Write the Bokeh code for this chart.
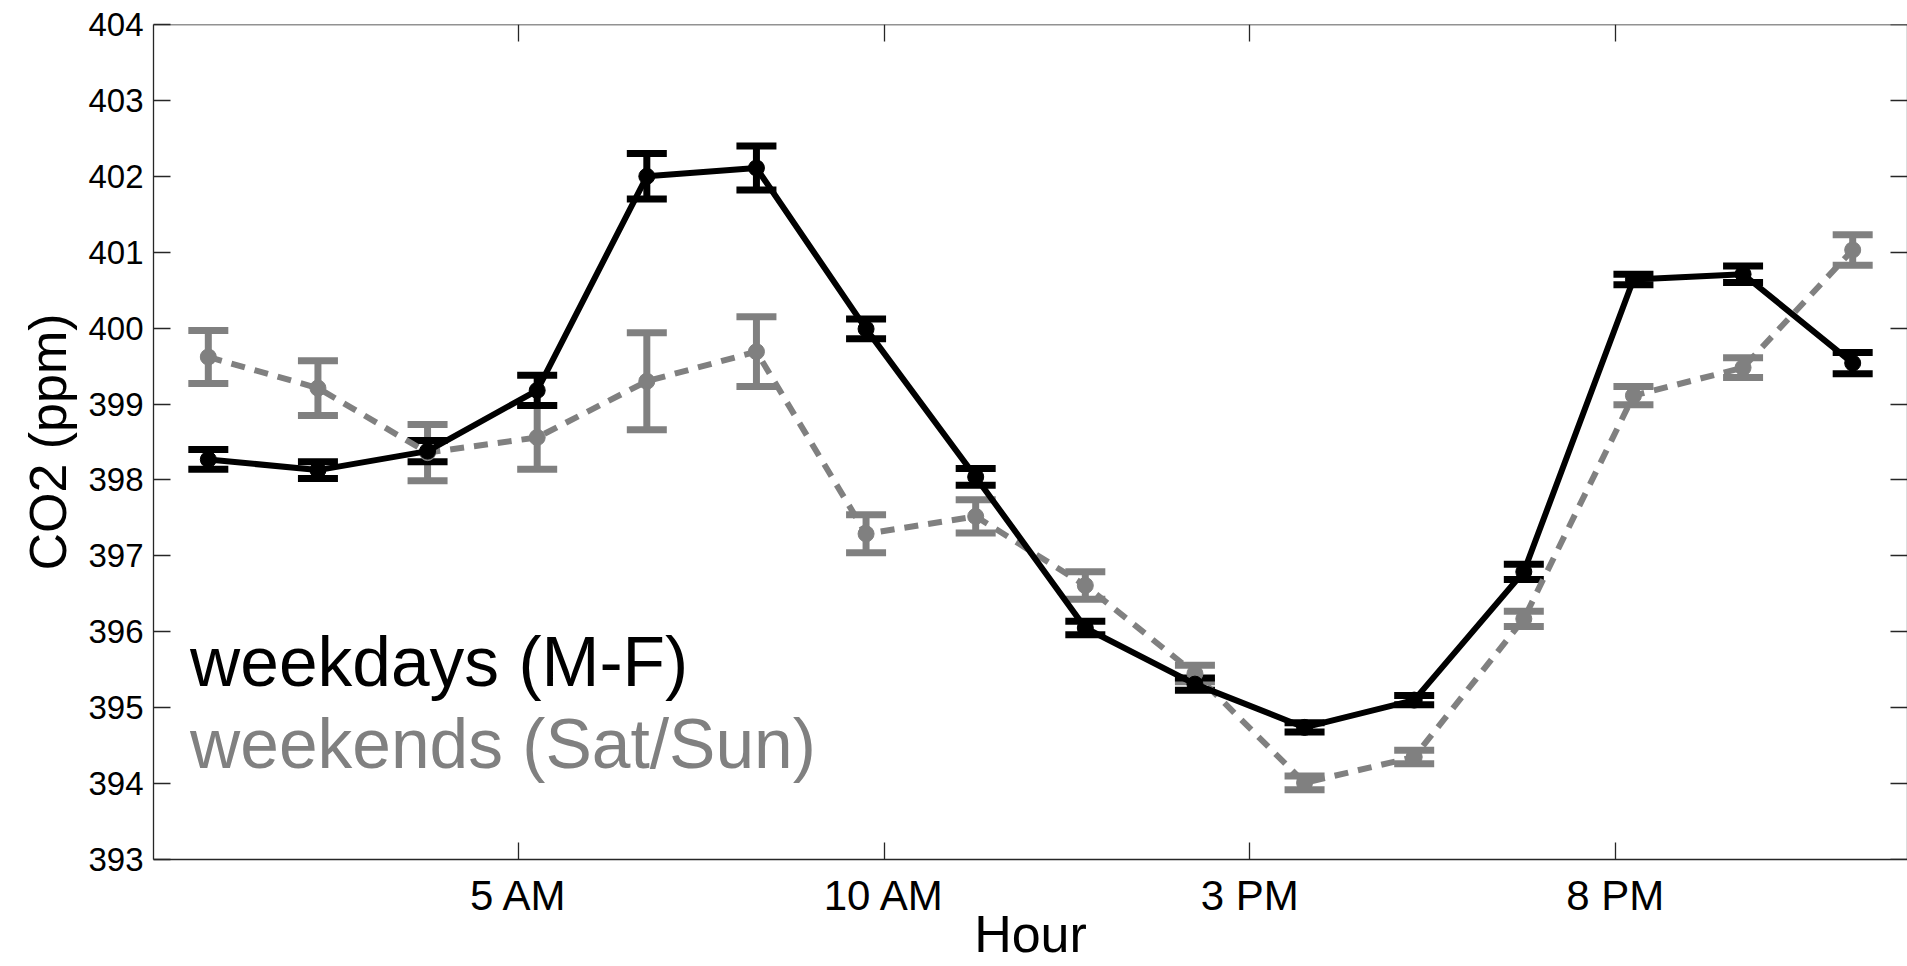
from bokeh.plotting import figure
from bokeh.models import (ColumnDataSource, Whisker, TeeHead, Range1d, FixedTicker,
                          LinearAxis, Label)
from bokeh.embed import file_html
from bokeh.resources import INLINE

# Mean CO2 per 1.5-hour bin of the day, with standard errors
hours = [0.75, 2.25, 3.75, 5.25, 6.75, 8.25, 9.75, 11.25,
         12.75, 14.25, 15.75, 17.25, 18.75, 20.25, 21.75, 23.25]

weekday_mean = [398.27, 398.13, 398.38, 399.18, 402.00, 402.11, 399.99, 398.04,
                396.05, 395.31, 394.74, 395.10, 396.79, 400.64, 400.71, 399.54]
weekday_err = [0.13, 0.11, 0.14, 0.20, 0.30, 0.29, 0.13, 0.11,
               0.09, 0.08, 0.06, 0.06, 0.10, 0.07, 0.11, 0.14]

weekend_mean = [399.62, 399.21, 398.36, 398.56, 399.30, 399.69, 397.29, 397.52,
                396.61, 395.45, 394.01, 394.35, 396.17, 399.11, 399.48, 401.03]
weekend_err = [0.35, 0.36, 0.37, 0.42, 0.64, 0.46, 0.25, 0.22,
               0.18, 0.11, 0.09, 0.09, 0.10, 0.12, 0.13, 0.20]

x_tick_values = [5, 10, 15, 20]
x_tick_labels = ["5 AM", "10 AM", "3 PM", "8 PM"]
y_tick_values = [393, 394, 395, 396, 397, 398, 399, 400, 401, 402, 403, 404]

X_MIN, X_MAX = 0, 24
Y_MIN, Y_MAX = 393, 404

FONT = "Liberation Sans"
GRAY = "#808080"
AXIS_COLOR = "#262626"

p = figure(width=1907, height=966, output_backend="svg", toolbar_location=None,
           x_range=Range1d(X_MIN, X_MAX), y_range=Range1d(Y_MIN, Y_MAX),
           min_border_left=153, min_border_right=0, min_border_top=24,
           min_border_bottom=107)
p.grid.visible = False
p.outline_line_color = None
p.background_fill_color = "white"
p.border_fill_color = "white"


def style_axis(ax, ticks, font_size, standoff):
    ax.ticker = FixedTicker(ticks=ticks)
    ax.major_tick_in = 17
    ax.major_tick_out = 0
    ax.minor_tick_line_color = None
    ax.axis_line_color = AXIS_COLOR
    ax.axis_line_width = 1.3
    ax.major_tick_line_color = AXIS_COLOR
    ax.major_tick_line_width = 1.3
    ax.major_label_text_font = FONT
    ax.major_label_text_font_size = font_size
    ax.major_label_text_color = "black"
    ax.major_label_standoff = standoff


xa = p.xaxis[0]
style_axis(xa, x_tick_values, "42px", 12)
xa.major_label_overrides = {v: s for v, s in zip(x_tick_values, x_tick_labels)}
xa.axis_label = "Hour"
xa.axis_label_text_font = FONT
xa.axis_label_text_font_size = "52px"
xa.axis_label_text_font_style = "normal"
xa.axis_label_text_color = "black"
xa.axis_label_standoff = -17

ya = p.yaxis[0]
style_axis(ya, y_tick_values, "33px", 10)
ya.axis_label = "CO2 (ppm)"
ya.axis_label_text_font = FONT
ya.axis_label_text_font_size = "52px"
ya.axis_label_text_font_style = "normal"
ya.axis_label_text_color = "black"
ya.axis_label_standoff = 8

# box frame: top and right axes carry inward ticks but no labels
top = LinearAxis(fixed_location=Y_MAX)
style_axis(top, x_tick_values, "0px", 0)
top.major_label_text_alpha = 0
p.add_layout(top, "above")

right = LinearAxis(fixed_location=X_MAX)
style_axis(right, y_tick_values, "0px", 0)
right.major_label_text_alpha = 0
p.add_layout(right, "right")


def add_series(mean, err, color, dash):
    src = ColumnDataSource(dict(
        x=hours, y=mean,
        upper=[m + e for m, e in zip(mean, err)],
        lower=[m - e for m, e in zip(mean, err)],
    ))
    p.line("x", "y", source=src, line_color=color, line_width=6, line_dash=dash)
    p.add_layout(Whisker(
        base="x", upper="upper", lower="lower", source=src,
        line_color=color, line_width=7,
        upper_head=TeeHead(size=40, line_color=color, line_width=7),
        lower_head=TeeHead(size=40, line_color=color, line_width=7),
    ))
    p.scatter("x", "y", source=src, size=16, fill_color=color, line_color=color)


add_series(weekend_mean, weekend_err, GRAY, "14 10")
add_series(weekday_mean, weekday_err, "black", "solid")

p.add_layout(Label(x=0.5, y=395.6, text="weekdays (M-F)", text_font=FONT,
                   text_font_size="69.5px", text_color="black",
                   text_baseline="alphabetic"))
p.add_layout(Label(x=0.5, y=394.52, text="weekends (Sat/Sun)", text_font=FONT,
                   text_font_size="69.5px", text_color=GRAY,
                   text_baseline="alphabetic"))

open("out.html", "w").write(file_html(p, INLINE))
